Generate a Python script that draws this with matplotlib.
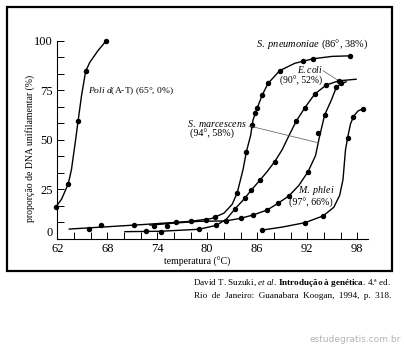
import matplotlib
matplotlib.use("Agg")
import matplotlib.pyplot as plt
from matplotlib.patches import Rectangle
import numpy as np

plt.rcParams['font.family'] = ['Liberation Serif', 'DejaVu Serif']
plt.rcParams['mathtext.fontset'] = 'custom'
plt.rcParams['mathtext.rm'] = 'Liberation Serif'
plt.rcParams['mathtext.it'] = 'Liberation Serif:italic'
plt.rcParams['mathtext.bf'] = 'Liberation Serif:bold'

poli_x = [61.8, 62.5, 63.3, 63.7, 64.2, 64.5, 64.9, 65.4, 65.9, 66.9, 67.9]
poli_y = [16, 20, 27.6, 35, 50, 59.6, 72, 84.4, 89, 95, 100]
poli_dx = [61.8, 63.3, 64.5, 65.4, 67.9]
poli_dy = [16, 27.6, 59.6, 84.4, 100]

pneu_x = [63.4, 72, 78, 80.5, 82, 83, 83.6, 84.3, 84.7, 85.2, 85.5, 86.0, 86.6, 87.3, 88.7, 90.5, 92.7, 95, 97.4]
pneu_y = [5.0, 7.2, 8.9, 10.3, 13, 17.5, 23.3, 35, 44, 52, 60, 66, 72.5, 78.4, 84.8, 88.5, 90.8, 92, 92.3]
pneu_dx = [65.8, 67.2, 71.2, 75.2, 78.1, 80.9, 83.6, 84.7, 85.4, 85.7, 86.0, 86.6, 87.3, 88.7, 91.5, 92.7, 97.1]
pneu_dy = [5.0, 7.1, 7.1, 6.7, 9.2, 10.9, 23.3, 44, 57.4, 63.6, 65.8, 72.5, 78.4, 84.8, 89.5, 90.8, 92.3]

coli_x = [70.1, 74.4, 79.0, 81.1, 82.3, 83.3, 84.5, 85.3, 86.3, 87.2, 88.1, 89.0, 89.8, 90.7, 91.7, 92.9, 94.3, 95.8, 97.9]
coli_y = [3.7, 3.9, 4.9, 6.9, 10, 15, 20.5, 24.7, 29.5, 34, 39, 45, 52, 59.5, 66, 73, 77.6, 79.7, 80.5]
coli_dx = [72.6, 74.4, 79.0, 81.1, 83.3, 84.5, 85.3, 86.3, 88.1, 90.7, 91.7, 92.9, 94.3, 95.8]
coli_dy = [4.2, 3.7, 4.9, 6.9, 15, 20.5, 24.7, 29.5, 39, 59.5, 66, 73, 77.6, 79.7]

marc_x = [73.1, 76, 79, 82.2, 84.0, 85.5, 87.2, 88.5, 89.8, 91, 92.1, 93.0, 93.5, 94.1, 94.9, 95.5, 96.1, 96.7]
marc_y = [7.0, 8.0, 8.9, 9.1, 10.4, 12.1, 14.6, 18, 21.7, 27, 33.9, 42, 52, 62.5, 70, 76.4, 78.4, 79.2]
marc_dx = [73.6, 76.3, 79.9, 82.2, 84.0, 85.5, 87.2, 88.5, 89.8, 92.1, 93.3, 94.1, 95.5, 96.1]
marc_dy = [6.5, 8.4, 9.6, 9.1, 10.4, 12.1, 14.6, 18, 21.7, 33.9, 53.2, 62.5, 76.4, 78.4]

phlei_x = [86.6, 89, 91.7, 93.9, 95.2, 95.9, 96.3, 96.6, 96.9, 97.2, 97.6, 98.1, 98.65]
phlei_y = [4.5, 6, 8.2, 11.6, 16, 22, 30, 45, 52, 58, 62, 64.5, 65.5]
phlei_dx = [86.6, 91.7, 93.9, 96.9, 97.5, 98.65]
phlei_dy = [4.5, 8.2, 11.6, 50.7, 61.6, 65.5]

x_major = [62, 68, 74, 80, 86, 92, 98]
y_major = [0, 25, 50, 75, 100]

fig = plt.figure(figsize=(4.04, 3.48), dpi=100)
ax = fig.add_axes([57.3 / 404, 1 - 239 / 348, (368 - 57.3) / 404, (239 - 40.5) / 348])

series = [(poli_x, poli_y, poli_dx, poli_dy),
          (pneu_x, pneu_y, pneu_dx, pneu_dy),
          (coli_x, coli_y, coli_dx, coli_dy),
          (marc_x, marc_y, marc_dx, marc_dy),
          (phlei_x, phlei_y, phlei_dx, phlei_dy)]
for lx, ly, dx, dy in series:
    ax.plot(lx, ly, color='black', lw=1.0, clip_on=False, solid_capstyle='round',
            solid_joinstyle='round')
    ax.plot(dx, dy, 'o', color='black', ms=2.9, clip_on=False)

ax.set_xlim(62, 99.3)
ax.set_ylim(0, 100)
for s in ['top', 'right']:
    ax.spines[s].set_visible(False)
for s in ['left', 'bottom']:
    ax.spines[s].set_linewidth(0.8)
ax.spines['left'].set_bounds(0, 100)

ax.set_xticks(x_major)
ax.set_xticks(np.arange(62, 99, 2), minor=True)
ax.set_yticks(y_major)
ax.set_yticklabels([''] + [str(v) for v in y_major[1:]])
ax.set_yticks(np.arange(0, 100.1, 25 / 3), minor=True)
ax.tick_params(which='both', direction='in', length=5, width=0.7, labelsize=9)
ax.tick_params(axis='x', pad=3)
ax.tick_params(axis='y', pad=3.5)
ax.annotate('0', xy=(0, 0), xycoords='axes fraction', xytext=(-3.5, 4.5),
            textcoords='offset points', ha='right', va='center', fontsize=9)

fs = 7.2
ax.text(65.7, 74.7, r'$\mathit{Poli\ d}$(A-T) (65°, 0%)', fontsize=6.8, va='center')
ax.text(99.3, 98.2, r'$\mathit{S.\ pneumoniae}$ (86°, 38%)', fontsize=7.5, va='center', ha='right')
ax.text(92.3, 85.3, r'$\mathit{E.coli}$', fontsize=6.9, va='center', ha='center')
ax.text(91.3, 79.5, '(90°, 52%)', fontsize=6.9, va='center', ha='center')
ax.text(81.1, 58.4, r'$\mathit{S.\ marcescens}$', fontsize=fs, va='center', ha='center')
ax.text(80.6, 52.9, '(94°, 58%)', fontsize=fs, va='center', ha='center')
ax.text(93.1, 24.2, r'$\mathit{M.\ phlei}$', fontsize=fs, va='center', ha='center')
ax.text(92.5, 18.1, '(97°, 66%)', fontsize=fs, va='center', ha='center')

# pointer lines
ax.plot([85.0, 85.3, 93.4], [56.7, 56.7, 48.4], color='#555555', lw=0.5)
ax.plot([93.9, 95.6], [84.8, 80.2], color='#555555', lw=0.5)

fig.text(30 / 404, 1 - 148.5 / 348, 'proporção de DNA unifilamentar (%)', rotation=90,
         ha='center', va='center', fontsize=7)
fig.text(197 / 404, 1 - 262 / 348, 'temperatura (°C)', ha='center', va='center', fontsize=7)

fig.add_artist(Rectangle((7 / 404, 1 - 271 / 348), 385 / 404, 264 / 348,
                         transform=fig.transFigure, fill=False, lw=1.6, ec='black'))

fig.text(391 / 404, 1 - 283 / 348,
         r'David T. Suzuki, $\mathit{et\ al}$. $\mathbf{Introdução\ à\ genética}$. 4.ª ed.',
         ha='right', va='center', fontsize=6.6)
fig.text(391 / 404, 1 - 296 / 348, 'Rio  de  Janeiro:  Guanabara  Koogan,  1994,  p.  318.',
         ha='right', va='center', fontsize=6.6)
fig.text(401 / 404, 1 - 340 / 348, 'estudegratis.com.br', ha='right', va='center',
         fontsize=6.5, color='#b4b4b4', family='DejaVu Sans')

fig.savefig('out.png', dpi=100)
